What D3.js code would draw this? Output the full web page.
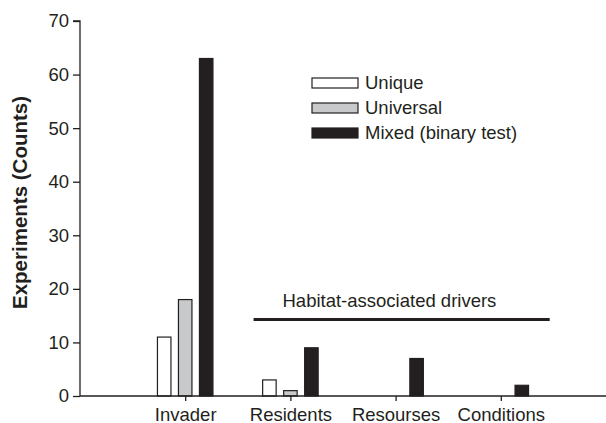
<!DOCTYPE html>
<html>
<head>
<meta charset="utf-8">
<script src="https://cdn.jsdelivr.net/npm/d3@7"></script>
<style>
html,body{margin:0;padding:0;background:#fff;}
svg{display:block;font-family:"Liberation Sans",Arial,Helvetica,sans-serif;}
</style>
</head>
<body>
<svg id="chart" width="606" height="423"></svg>
<script>
const categories = ["Invader", "Residents", "Resourses", "Conditions"];
const seriesNames = ["Unique", "Universal", "Mixed (binary test)"];
const uniqueVals = [11, 3, 0, 0];
const universalVals = [18, 1, 0, 0];
const mixedVals = [63, 9, 7, 2];
const yTicks = [0, 10, 20, 30, 40, 50, 60, 70];
const colors = ["#ffffff", "#c8c9cb", "#231f20"];
const annotationText = "Habitat-associated drivers";
const annotationValue = 14.3;

const series = [uniqueVals, universalVals, mixedVals];
const FS = 18.5;

const svg = d3.select("#chart");
const x0 = 80, x1 = 606, yTop = 21, yBot = 396;

const x = d3.scalePoint().domain(categories).range([x0, x1]).padding(1);
const y = d3.scaleLinear().domain([0, 70]).range([yBot, yTop]);
const inner = d3.scaleBand().domain(d3.range(series.length)).range([-27.75, 27.75]).paddingInner(0.357);

// bars
series.forEach((vals, si) => {
  svg.append("g").selectAll("rect")
    .data(vals.map((v, i) => ({cat: categories[i], v})).filter(d => d.v > 0))
    .join("rect")
    .attr("x", d => x(d.cat) + inner(si))
    .attr("y", d => y(d.v))
    .attr("width", inner.bandwidth())
    .attr("height", d => y(0) - y(d.v))
    .attr("fill", colors[si])
    .attr("stroke", "#231f20")
    .attr("stroke-width", 1.2);
});

// y axis
const yAxis = svg.append("g").attr("transform", `translate(${x0},0)`)
  .call(d3.axisLeft(y).tickValues(yTicks).tickSize(7).tickPadding(4).tickFormat(d3.format("d")));
yAxis.select(".domain").attr("stroke", "#231f20").attr("stroke-width", 1.3).attr("d", `M-7,${yTop}H0V${yBot}`);
yAxis.selectAll(".tick line").attr("stroke", "#231f20").attr("stroke-width", 1.3);
yAxis.selectAll(".tick text").attr("font-size", FS).attr("fill", "#231f20").attr("font-family", "Liberation Sans, Arial, sans-serif");

// x axis
const xAxis = svg.append("g").attr("transform", `translate(0,${yBot})`)
  .call(d3.axisBottom(x).tickSize(5).tickPadding(7));
xAxis.select(".domain").attr("stroke", "#231f20").attr("stroke-width", 1.3).attr("d", `M${x0},0H${x1}`);
xAxis.selectAll(".tick line").attr("stroke", "#231f20").attr("stroke-width", 1.3);
xAxis.selectAll(".tick text").attr("font-size", FS).attr("fill", "#231f20").attr("font-family", "Liberation Sans, Arial, sans-serif");

// y title
svg.append("text")
  .attr("transform", `translate(27,${(yTop + yBot) / 2 - 6}) rotate(-90)`)
  .attr("text-anchor", "middle")
  .attr("font-size", 20.5).attr("font-weight", "bold").attr("fill", "#231f20")
  .text("Experiments (Counts)");

// annotation
const step = x.step();
svg.append("line")
  .attr("x1", x("Residents") - step * 0.35).attr("x2", x("Conditions") + step * 0.465)
  .attr("y1", y(annotationValue)).attr("y2", y(annotationValue))
  .attr("stroke", "#231f20").attr("stroke-width", 3);
svg.append("text")
  .attr("x", x("Residents") - step * 0.075).attr("y", y(annotationValue) - 12)
  .attr("font-size", FS).attr("fill", "#231f20")
  .text(annotationText);

// legend
const lg = svg.append("g").attr("transform", "translate(312,78)");
seriesNames.forEach((name, i) => {
  const g = lg.append("g").attr("transform", `translate(0,${i * 25})`);
  g.append("rect").attr("width", 46).attr("height", 10)
    .attr("fill", colors[i]).attr("stroke", "#231f20").attr("stroke-width", 1.2);
  g.append("text").attr("x", 53).attr("y", 11).attr("font-size", FS).attr("fill", "#231f20").text(name);
});
</script>
</body>
</html>
